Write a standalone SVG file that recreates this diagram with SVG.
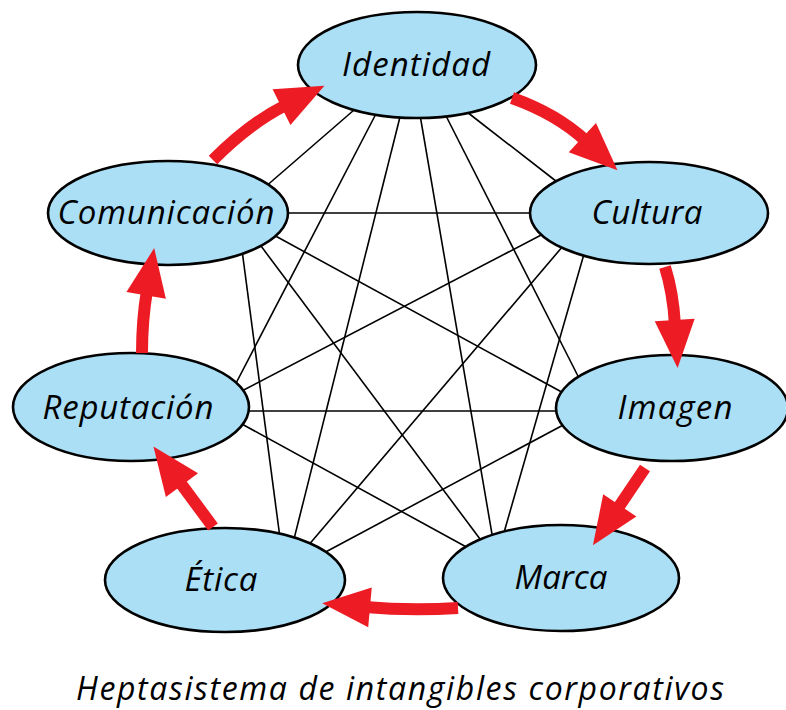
<svg xmlns="http://www.w3.org/2000/svg" width="786" height="710" viewBox="0 0 786 710">
<style>
.bg{fill:#ffffff}
.edge{stroke:#000;stroke-width:1.6;fill:none}
.node ellipse{fill:#aadff6;stroke:#000;stroke-width:2.6}
.lbl{font-family:"Open Sans","Noto Sans","DejaVu Sans",sans-serif;font-style:italic;font-size:33px;fill:#000;text-anchor:middle}
.cap{font-family:"Open Sans","Noto Sans","DejaVu Sans",sans-serif;font-style:italic;font-size:32px;fill:#000;text-anchor:middle}
.arrow{stroke:#ed1c24;stroke-width:12;fill:none;marker-end:url(#head)}
</style>
<defs>
<marker id="head" markerUnits="userSpaceOnUse" viewBox="-1 -21 50 42" markerWidth="50" markerHeight="42" refX="5" refY="0" orient="auto" overflow="visible">
<path d="M0,-20 L48,0 L0,20 Z" fill="#ed1c24"/>
</marker>
</defs>
<rect class="bg" x="0" y="0" width="786" height="710"/>
<g id="connectors">
<line class="edge" x1="354" y1="110" x2="264" y2="188"/>
<line class="edge" x1="379" y1="108" x2="233" y2="389"/>
<line class="edge" x1="402" y1="109" x2="293" y2="543"/>
<line class="edge" x1="419" y1="109" x2="493" y2="540"/>
<line class="edge" x1="443" y1="110" x2="581" y2="382"/>
<line class="edge" x1="467" y1="112" x2="561" y2="185"/>
<line class="edge" x1="280" y1="213" x2="540" y2="213"/>
<line class="edge" x1="270" y1="233" x2="569" y2="396"/>
<line class="edge" x1="258" y1="242" x2="483" y2="543"/>
<line class="edge" x1="242" y1="250" x2="280" y2="538"/>
<line class="edge" x1="545" y1="233" x2="236" y2="394"/>
<line class="edge" x1="563" y1="246" x2="307" y2="547"/>
<line class="edge" x1="584" y1="254" x2="503" y2="536"/>
<line class="edge" x1="240" y1="411" x2="565" y2="411"/>
<line class="edge" x1="240" y1="423" x2="470" y2="549"/>
<line class="edge" x1="320" y1="555" x2="567" y2="423"/>
</g>
<g id="identidad" class="node"><ellipse cx="417" cy="65" rx="119" ry="53"/><text class="lbl" x="416" y="76" textLength="148" lengthAdjust="spacing">Identidad</text></g>
<g id="cultura" class="node"><ellipse cx="649" cy="213" rx="119" ry="51"/><text class="lbl" x="647" y="224" textLength="111" lengthAdjust="spacing">Cultura</text></g>
<g id="imagen" class="node"><ellipse cx="672" cy="408" rx="116" ry="53"/><text class="lbl" x="675" y="419" textLength="115" lengthAdjust="spacing">Imagen</text></g>
<g id="marca" class="node"><ellipse cx="561" cy="578" rx="118" ry="53"/><text class="lbl" x="561" y="589" textLength="93" lengthAdjust="spacing">Marca</text></g>
<g id="etica" class="node"><ellipse cx="225" cy="580" rx="120" ry="52"/><text class="lbl" x="221" y="591" textLength="73" lengthAdjust="spacing">Ética</text></g>
<g id="reputacion" class="node"><ellipse cx="131" cy="407" rx="118" ry="54"/><text class="lbl" x="128" y="419" textLength="171" lengthAdjust="spacing">Reputación</text></g>
<g id="comunicacion" class="node"><ellipse cx="168" cy="213" rx="120" ry="52"/><text class="lbl" x="166" y="224" textLength="217" lengthAdjust="spacing">Comunicación</text></g>
<g id="cycle">
<path class="arrow" d="M213,160 Q250,123 286,105"/>
<path class="arrow" d="M512,98 Q557,114 586,141"/>
<path class="arrow" d="M665,267 Q673,292 675,325"/>
<path class="arrow" d="M645,468 L617,509.5"/>
<path class="arrow" d="M458,608 Q410,611 365,607"/>
<path class="arrow" d="M213,527 L179,481"/>
<path class="arrow" d="M142,353 Q142,320 147,290.5"/>
</g>
<text class="cap" x="400" y="700" textLength="648" lengthAdjust="spacing">Heptasistema de intangibles corporativos</text>
</svg>
